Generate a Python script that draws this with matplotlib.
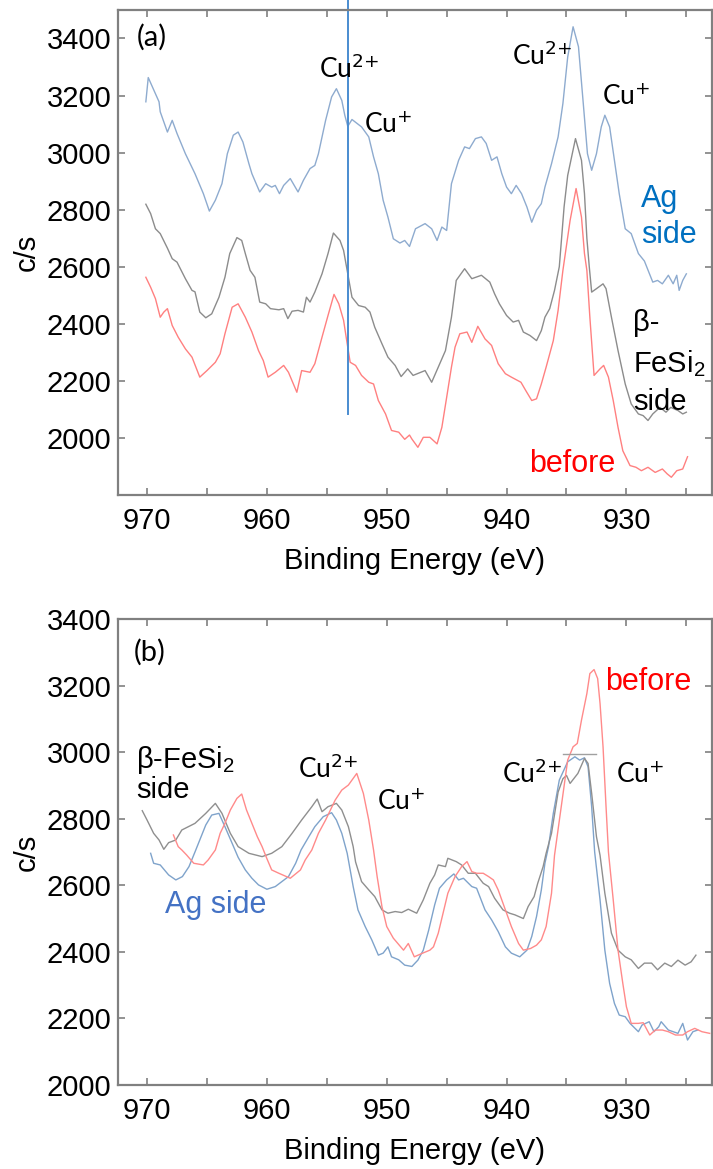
import numpy as np
import matplotlib
matplotlib.use('Agg')
import matplotlib.pyplot as plt
from matplotlib.ticker import MultipleLocator

#--------------------------------
# Espectros Cu 2p (a)
ev_a_ag = [970.1, 969.9, 969.0, 968.9, 968.3, 967.9, 967.5, 966.8, 966.0, 965.3, 964.8, 964.3, 963.75,
           963.3, 962.8, 962.4, 962.0, 961.5, 961.25, 960.6, 960.1, 959.6, 959.3, 958.95, 958.6, 958.05,
           957.4, 956.95, 956.4, 956.0, 955.7, 955.1, 954.6, 954.2, 953.75, 953.5, 953.25, 952.9, 952.1,
           951.5, 951.1, 950.7, 950.3, 949.9, 949.45, 948.9, 948.5, 948.1, 947.6, 946.8, 946.25, 945.8,
           945.4, 945.0, 944.6, 944.0, 943.5, 943.1, 942.6, 942.1, 941.7, 941.25, 940.8, 940.4, 940.0,
           939.6, 939.2, 938.75, 938.3, 937.9, 937.5, 937.1, 936.8, 936.25, 935.7, 935.3, 934.9, 934.45,
           934.0, 933.6, 933.25, 932.9, 932.5, 932.1, 931.8, 931.4, 931.0, 930.6, 930.1, 929.6, 929.0,
           928.5, 927.8, 927.4, 927.0, 926.5, 926.1, 925.8, 925.6, 925.3, 925.0]
cs_a_ag = [3178, 3263, 3178, 3143, 3072, 3113, 3067, 2996, 2926, 2856, 2795, 2833, 2891,
           2996, 3061, 3072, 3037, 2961, 2926, 2862, 2891, 2879, 2885, 2856, 2885, 2909,
           2862, 2903, 2944, 2955, 2996, 3113, 3195, 3224, 3183, 3131, 3092, 3116, 3090,
           3055, 2985, 2926, 2833, 2774, 2698, 2683, 2692, 2671, 2733, 2751, 2733, 2692,
           2739, 2727, 2891, 2973, 3020, 3014, 3049, 3055, 3032, 2973, 2985, 2926, 2879,
           2856, 2885, 2856, 2809, 2756, 2798, 2821, 2879, 2961, 3055, 3172, 3335, 3441,
           3371, 3172, 2996, 2938, 2996, 3090, 3131, 3090, 2973, 2856, 2733, 2716, 2646,
           2620, 2546, 2552, 2540, 2570, 2540, 2570, 2517, 2552, 2575]

ev_a_fesi = [970.1, 969.7, 969.3, 968.9, 968.3, 967.9, 967.5, 966.8, 966.25, 966.0, 965.6, 965.1, 964.6,
             964.0, 963.5, 963.1, 962.5, 962.1, 961.8, 961.4, 961.0, 960.6, 960.1, 959.7, 959.0, 958.6,
             958.25, 957.9, 957.4, 956.95, 956.7, 956.4, 956.0, 955.4, 954.9, 954.45, 953.9, 953.6, 953.2,
             952.9, 952.35, 951.8, 951.4, 951.0, 950.4, 949.9, 949.3, 948.8, 948.25, 947.8, 946.8, 946.25,
             945.7, 945.1, 944.6, 944.2, 943.5, 942.9, 942.1, 941.4, 941.0, 940.6, 940.0, 939.45, 939.0,
             938.6, 938.05, 937.5, 937.1, 936.8, 936.4, 936.0, 935.6, 935.2, 934.9, 934.25, 933.75, 933.5,
             933.3, 933.1, 932.9, 932.5, 931.95, 931.7, 931.25, 930.7, 930.1, 929.6, 929.0, 928.6, 928.2,
             927.8, 927.2, 926.7, 926.3, 925.7, 925.3, 925.0]
cs_a_fesi = [2819, 2786, 2733, 2716, 2665, 2628, 2616, 2558, 2517, 2512, 2441, 2421, 2435,
             2493, 2563, 2646, 2702, 2692, 2646, 2587, 2563, 2476, 2470, 2453, 2449, 2453,
             2418, 2444, 2447, 2441, 2493, 2476, 2511, 2575, 2646, 2718, 2692, 2657, 2563,
             2493, 2464, 2458, 2441, 2388, 2330, 2283, 2254, 2215, 2242, 2219, 2236, 2195,
             2248, 2306, 2423, 2552, 2593, 2558, 2570, 2546, 2505, 2470, 2429, 2406, 2412,
             2371, 2359, 2341, 2376, 2423, 2453, 2517, 2600, 2810, 2920, 3049, 2973, 2856,
             2700, 2600, 2511, 2523, 2540, 2523, 2423, 2306, 2189, 2119, 2084, 2078, 2061,
             2084, 2107, 2090, 2107, 2096, 2084, 2090]

ev_a_bef = [970.1, 969.7, 969.3, 968.9, 968.6, 968.3, 967.9, 967.4, 966.8, 966.25, 965.6, 965.0, 964.3,
            963.9, 963.5, 962.9, 962.4, 961.8, 961.25, 960.7, 960.3, 959.9, 959.3, 958.6, 958.2, 957.5,
            957.1, 956.4, 956.0, 955.4, 954.9, 954.4, 954.0, 953.6, 953.3, 953.05, 952.6, 952.1, 951.5,
            951.1, 950.7, 950.1, 949.6, 949.0, 948.5, 948.1, 947.9, 947.4, 946.95, 946.4, 945.8, 945.4,
            945.0, 944.6, 944.3, 943.9, 943.3, 942.9, 942.4, 941.8, 941.25, 940.7, 940.1, 939.6, 938.8,
            938.4, 937.9, 937.5, 937.1, 936.7, 936.1, 935.7, 935.3, 934.7, 934.2, 933.75, 933.5, 933.3,
            933.05, 932.7, 932.2, 931.9, 931.5, 931.1, 930.7, 930.3, 929.7, 929.2, 928.75, 928.2, 927.6,
            927.0, 926.6, 926.25, 925.8, 925.3, 924.9]
cs_a_bef = [2563, 2528, 2488, 2423, 2441, 2453, 2394, 2353, 2312, 2283, 2213, 2236, 2265,
            2295, 2365, 2458, 2470, 2423, 2371, 2306, 2271, 2213, 2230, 2254, 2230, 2160,
            2236, 2230, 2260, 2353, 2429, 2503, 2470, 2412, 2330, 2265, 2254, 2219, 2195,
            2189, 2131, 2084, 2026, 2020, 1995, 2010, 1996, 1967, 2002, 2002, 1979, 2037,
            2142, 2248, 2318, 2365, 2371, 2335, 2391, 2347, 2324, 2260, 2225, 2213, 2195,
            2166, 2131, 2137, 2189, 2248, 2341, 2447, 2587, 2762, 2874, 2774, 2646, 2587,
            2423, 2219, 2242, 2254, 2213, 2131, 2037, 1955, 1903, 1897, 1885, 1897, 1879,
            1891, 1874, 1862, 1885, 1891, 1934]

#--------------------------------
# Espectros Cu 2p (b)
ev_b_ag = [969.7, 969.45, 968.9, 968.2, 967.6, 967.05, 966.5, 966.0, 965.1, 964.6, 964.0, 963.5, 962.9,
           962.4, 961.8, 961.25, 960.7, 960.0, 959.3, 958.75, 958.2, 957.6, 957.15, 956.5, 956.0, 955.3,
           954.6, 954.2, 953.75, 953.3, 952.8, 952.4, 951.8, 951.25, 950.7, 950.3, 949.9, 949.6, 949.0,
           948.5, 947.9, 947.4, 946.95, 946.5, 946.0, 945.6, 945.0, 944.4, 944.0, 943.6, 942.9, 942.5,
           941.8, 941.25, 940.7, 940.1, 939.6, 938.9, 938.3, 937.9, 937.5, 937.1, 936.8, 936.5, 936.1,
           935.6, 934.9, 934.3, 933.9, 933.5, 933.2, 932.9, 932.65, 932.2, 931.8, 931.4, 931.0, 930.6,
           930.1, 929.7, 929.0, 928.7, 928.1, 927.7, 927.3, 927.1, 926.5, 926.1, 925.7, 925.3, 924.9,
           924.45, 924.05]
cs_b_ag = [2696, 2666, 2661, 2631, 2616, 2626, 2656, 2700, 2781, 2811, 2816, 2776, 2726,
           2684, 2646, 2621, 2601, 2588, 2596, 2611, 2626, 2666, 2706, 2746, 2776, 2806,
           2818, 2796, 2756, 2696, 2596, 2526, 2476, 2436, 2390, 2396, 2415, 2385, 2376,
           2360, 2356, 2375, 2405, 2465, 2541, 2591, 2616, 2634, 2616, 2621, 2596, 2591,
           2526, 2496, 2461, 2415, 2396, 2385, 2405, 2446, 2506, 2586, 2666, 2716, 2816,
           2916, 2971, 2986, 2976, 2983, 2956, 2836, 2700, 2556, 2405, 2305, 2245, 2210,
           2205, 2185, 2160, 2180, 2190, 2160, 2175, 2190, 2165, 2160, 2155, 2185, 2135,
           2160, 2165]

ev_b_fesi = [970.4, 970.0, 969.45, 969.0, 968.6, 968.2, 967.6, 967.1, 966.0, 965.1, 964.3, 963.75, 963.05,
             962.4, 961.5, 960.4, 959.6, 958.75, 957.9, 957.1, 956.25, 955.8, 955.4, 954.9, 954.2, 953.75,
             953.2, 952.8, 952.6, 952.1, 951.5, 951.0, 950.4, 949.9, 949.3, 948.75, 948.2, 947.5, 946.95,
             946.4, 946.0, 945.7, 945.1, 944.9, 944.2, 943.75, 943.2, 942.6, 941.95, 941.5, 941.0, 940.3,
             939.75, 939.3, 938.6, 938.2, 937.7, 937.4, 936.95, 936.7, 936.25, 935.7, 935.3, 935.0, 934.7,
             934.05, 933.5, 933.2, 932.9, 932.5, 932.2, 931.8, 931.25, 930.7, 930.1, 929.6, 929.0, 928.5,
             927.9, 927.4, 926.8, 926.25, 925.7, 925.1, 924.6, 924.2]
cs_b_fesi = [2824, 2796, 2756, 2736, 2708, 2728, 2736, 2766, 2786, 2816, 2846, 2816, 2756,
             2716, 2696, 2686, 2696, 2716, 2756, 2796, 2836, 2859, 2821, 2836, 2846, 2826,
             2776, 2716, 2670, 2611, 2586, 2566, 2526, 2516, 2521, 2518, 2528, 2516, 2556,
             2606, 2631, 2661, 2656, 2681, 2671, 2661, 2636, 2636, 2606, 2596, 2561, 2526,
             2516, 2511, 2500, 2536, 2566, 2606, 2656, 2696, 2756, 2880, 2920, 2930, 2906,
             2936, 2981, 2966, 2876, 2746, 2690, 2576, 2456, 2405, 2385, 2376, 2350, 2366,
             2366, 2346, 2366, 2356, 2375, 2360, 2370, 2390]

ev_b_bef = [967.8, 967.4, 967.1, 966.7, 966.1, 965.3, 964.9, 964.3, 963.9, 963.5, 963.05, 962.5, 962.1,
            961.7, 961.25, 960.8, 960.4, 960.0, 959.6, 959.0, 958.05, 957.2, 956.8, 956.25, 955.7, 955.1,
            954.3, 953.75, 953.2, 952.5, 951.95, 951.5, 951.1, 950.8, 950.4, 950.0, 949.45, 948.6, 948.2,
            947.7, 947.0, 946.4, 946.1, 945.7, 945.3, 944.9, 944.3, 943.75, 943.3, 942.9, 942.5, 941.95,
            941.5, 941.1, 940.7, 940.1, 939.6, 939.0, 938.6, 938.0, 937.5, 937.1, 936.7, 936.25, 936.0,
            935.4, 934.9, 934.45, 934.1, 933.75, 933.3, 933.05, 932.7, 932.4, 932.2, 931.95, 931.7, 931.5,
            931.1, 930.7, 930.3, 930.0, 929.6, 929.0, 928.6, 928.05, 927.6, 927.0, 926.5, 925.9, 925.3,
            924.9, 924.3, 923.7, 923.05]
cs_b_bef = [2751, 2716, 2706, 2691, 2666, 2661, 2676, 2706, 2756, 2786, 2826, 2861, 2874,
            2826, 2786, 2746, 2716, 2680, 2646, 2636, 2621, 2646, 2676, 2706, 2756, 2796,
            2856, 2886, 2901, 2936, 2876, 2796, 2706, 2626, 2536, 2476, 2441, 2405, 2425,
            2385, 2396, 2405, 2415, 2456, 2516, 2576, 2626, 2656, 2671, 2641, 2636, 2636,
            2626, 2616, 2586, 2526, 2476, 2425, 2405, 2410, 2420, 2436, 2476, 2576, 2690,
            2846, 2976, 3016, 3026, 3096, 3176, 3236, 3248, 3221, 3146, 3016, 2836, 2700,
            2556, 2405, 2305, 2235, 2185, 2185, 2187, 2150, 2165, 2165, 2160, 2150, 2150,
            2160, 2170, 2160, 2155]

yt_a = [2000, 2200, 2400, 2600, 2800, 3000, 3200, 3400]
yt_b = [2000, 2200, 2400, 2600, 2800, 3000, 3200, 3400]

#--------------------------------
# Estilo
plt.rcParams['font.family'] = ['Liberation Sans', 'DejaVu Sans']
plt.rcParams['mathtext.default'] = 'regular'
fs = 21
cu_font = ['Lato', 'DejaVu Sans']
gris = '#808080'
cu2 = 'Cu$^{\\text{2+}}$'
cu1 = 'Cu$^{\\text{+}}$'

fig = plt.figure(figsize=(7.13, 11.69), dpi=100)
ax1 = fig.add_axes((0.1659, 0.5766, 0.832, 0.4149))
ax2 = fig.add_axes((0.1659, 0.0719, 0.832, 0.3986))


def ejes(ax, ylim, yt):
    ax.set_xlim(972.4, 922.9)
    ax.set_ylim(*ylim)
    ax.xaxis.set_major_locator(MultipleLocator(10))
    ax.xaxis.set_minor_locator(MultipleLocator(5))
    ax.set_yticks(yt)
    ax.tick_params(which='both', direction='in', top=True, right=True, length=5, width=1.2,
                   color=gris, labelsize=fs, pad=5)
    ax.tick_params(axis='x', which='major', pad=9)
    for s in ax.spines.values():
        s.set_color(gris)
        s.set_linewidth(1.6)
    ax.set_xlabel('Binding Energy (eV)', fontsize=fs, labelpad=8)
    ax.set_ylabel('c/s', fontsize=fs, labelpad=4)


#--------------------------------
# (a)
ejes(ax1, (1800, 3500), yt_a)
ax1.plot(ev_a_ag, cs_a_ag, '-', color='#8EABCF', linewidth=1.0)
ax1.plot(ev_a_fesi, cs_a_fesi, '-', color='#8C8C8C', linewidth=1.0)
ax1.plot(ev_a_bef, cs_a_bef, '-', color='#FF8080', linewidth=1.0)
ax1.plot([953.25, 953.25], [2082, 3534], '-', color='#4A8CD0', linewidth=1.4, clip_on=False)

ax1.text(970.83, 3373, '(a)', fontsize=21, family=cu_font)
ax1.text(955.64, 3260, cu2, fontsize=19, family=cu_font)
ax1.text(951.87, 3069, cu1, fontsize=19, family=cu_font)
ax1.text(939.53, 3306, cu2, fontsize=19, family=cu_font)
ax1.text(932.0, 3166, cu1, fontsize=19, family=cu_font)
ax1.text(928.75, 2809, 'Ag', fontsize=22, color='#0070C0')
ax1.text(928.75, 2683, 'side', fontsize=22, color='#0070C0')
ax1.text(929.45, 2373, 'β-', fontsize=fs)
ax1.text(929.45, 2232, 'FeSi$_2$', fontsize=fs)
ax1.text(929.45, 2099, 'side', fontsize=fs)
ax1.text(938.14, 1879, 'before', fontsize=22, color='red')

#--------------------------------
# (b)
ejes(ax2, (2000, 3400), yt_b)
ax2.plot(ev_b_ag, cs_b_ag, '-', color='#7FA3CB', linewidth=1.0)
ax2.plot(ev_b_fesi, cs_b_fesi, '-', color='#8F8F8F', linewidth=1.0)
ax2.plot(ev_b_bef, cs_b_bef, '-', color='#FF8A8A', linewidth=1.0)
ax2.plot([935.3, 932.5], [2993, 2993], '-', color='#A0A0A0', linewidth=1.0)

ax2.text(971.1, 3276, '(b)', fontsize=21, family=cu_font)
ax2.text(970.9, 2951, 'β-FeSi$_2$', fontsize=fs)
ax2.text(970.9, 2861, 'side', fontsize=fs)
ax2.text(957.4, 2921, cu2, fontsize=19, family=cu_font)
ax2.text(950.8, 2826, cu1, fontsize=19, family=cu_font)
ax2.text(940.37, 2908, cu2, fontsize=19, family=cu_font)
ax2.text(930.9, 2908, cu1, fontsize=19, family=cu_font)
ax2.text(931.8, 3186, 'before', fontsize=22, color='red')
ax2.text(968.5, 2516, 'Ag side', fontsize=22, color='#4472C4')

fig.savefig('out.png', dpi=100)
